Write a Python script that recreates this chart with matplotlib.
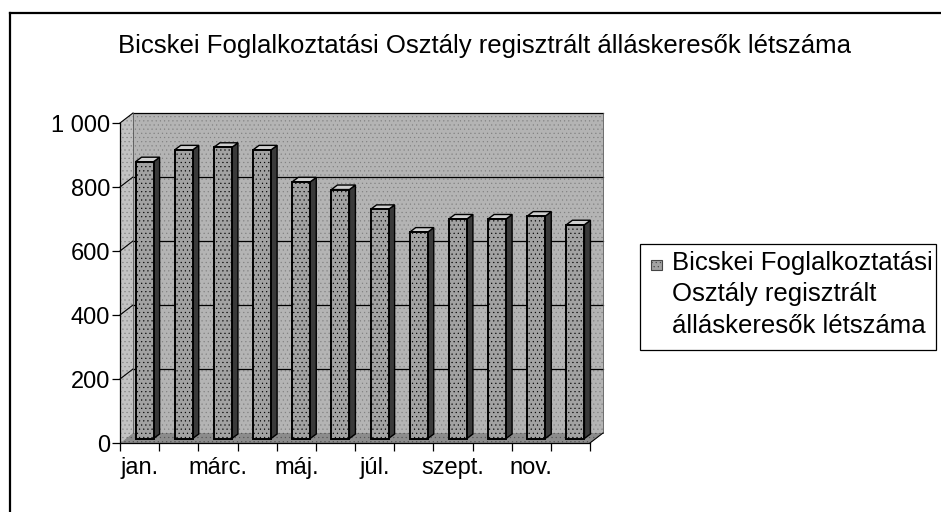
import matplotlib
matplotlib.use("Agg")
import matplotlib.pyplot as plt
from matplotlib.patches import Polygon, Rectangle
from matplotlib.lines import Line2D

# ---- data ----
months = ["jan.", "febr.", "márc.", "ápr.", "máj.", "jún.", "júl.", "aug.",
          "szept.", "okt.", "nov.", "dec."]
values = [865, 902, 910, 902, 802, 778, 716, 645, 686, 686, 695, 668]
shown_labels = ["jan.", "márc.", "máj.", "júl.", "szept.", "nov."]
yticks = [0, 200, 400, 600, 800, 1000]
ytick_labels = ["0", "200", "400", "600", "800", "1 000"]
title = "Bicskei Foglalkoztatási Osztály regisztrált álláskeresők létszáma"
legend_lines = ["Bicskei Foglalkoztatási", "Osztály regisztrált",
                "álláskeresők létszáma"]

plt.rcParams["font.family"] = ["Liberation Sans", "DejaVu Sans"]
plt.rcParams["hatch.linewidth"] = 0.35

W, H = 941, 512
fig = plt.figure(figsize=(W / 100, H / 100), dpi=100)
fig.patch.set_facecolor("white")

ax_l, ax_r, ax_top, ax_bot = 120, 590, 123, 443
ax = fig.add_axes([ax_l / W, (H - ax_bot) / H, (ax_r - ax_l) / W, (ax_bot - ax_top) / H])
n = len(values)
ax.set_xlim(-0.5, n - 0.5)
ax.set_ylim(0, 1000)
ax.set_facecolor("none")

px_x = (ax_r - ax_l) / n          # pixels per x unit
px_y = (ax_bot - ax_top) / 1000   # pixels per y unit
DX, DY = 13 / px_x, 10 / px_y     # full depth of the 3D box
FX, FY = 5 / px_x, 4.5 / px_y     # front face of the bars
SX, SY = 6 / px_x, 4.5 / px_y     # depth of each bar

x0, x1 = -0.5, n - 0.5
wall_c = "#b4b4b4"
hatch_c = "#808080"

# back wall
ax.add_patch(Polygon([(x0 + DX, DY), (x1 + DX, DY), (x1 + DX, 1000 + DY), (x0 + DX, 1000 + DY)],
                     closed=True, facecolor=wall_c, edgecolor=hatch_c, hatch="....",
                     lw=0, clip_on=False, zorder=0))
# left side wall
ax.add_patch(Polygon([(x0, 0), (x0 + DX, DY), (x0 + DX, 1000 + DY), (x0, 1000)],
                     closed=True, facecolor="#c2c2c2", edgecolor=hatch_c, hatch="....",
                     lw=0, clip_on=False, zorder=0))
# floor
ax.add_patch(Polygon([(x0, 0), (x1, 0), (x1 + DX, DY), (x0 + DX, DY)],
                     closed=True, facecolor="#8c8c8c", edgecolor="#555555", hatch="....",
                     lw=0, clip_on=False, zorder=0.5))
ax.plot([x1, x1 + DX], [0, DY], color="black", lw=0.8, clip_on=False, zorder=0.6)

# gridlines on back wall and side wall
for v in yticks[1:]:
    ax.plot([x0 + DX, x1 + DX], [v + DY, v + DY], color="black", lw=0.9,
            clip_on=False, zorder=0.4)
    ax.plot([x0, x0 + DX], [v, v + DY], color="black", lw=0.8, clip_on=False, zorder=0.4)
ax.plot([x0 + DX, x0 + DX], [DY, 1000 + DY], color="#555555", lw=0.6, clip_on=False, zorder=0.4)
ax.plot([x1 + DX, x1 + DX], [DY, 1000 + DY], color="#555555", lw=0.6, clip_on=False, zorder=0.4)

# bars
w = 0.46
xs = list(range(n))
ax.bar([x + FX for x in xs], values, width=w, bottom=FY, facecolor="#a2a2a2",
       edgecolor="black", linewidth=1.4, hatch="....", zorder=3, clip_on=False)
for x, v in zip(xs, values):
    xl, xr = x + FX - w / 2, x + FX + w / 2
    top = v + FY
    # side face
    ax.add_patch(Polygon([(xr, FY), (xr + SX, FY + SY), (xr + SX, top + SY), (xr, top)],
                         closed=True, facecolor="#3a3a3a", edgecolor="black", lw=1.0,
                         zorder=2.5, clip_on=False))
    # top face
    ax.add_patch(Polygon([(xl, top), (xr, top), (xr + SX, top + SY), (xl + SX, top + SY)],
                         closed=True, facecolor="#cfcfcf", edgecolor="black", lw=1.0,
                         zorder=2.6, clip_on=False))

# axes
for s in ["top", "right"]:
    ax.spines[s].set_visible(False)
ax.spines["left"].set_linewidth(0.9)
ax.spines["bottom"].set_linewidth(0.9)
ax.spines["left"].set_zorder(4)
ax.spines["bottom"].set_zorder(4)

ax.set_yticks(yticks)
ax.set_yticklabels(ytick_labels)
ax.tick_params(axis="y", direction="out", length=6, width=0.9, pad=1, labelsize=17)

ax.set_xticks([i - 0.5 for i in range(n + 1)])
ax.set_xticklabels([])
ax.tick_params(axis="x", which="major", direction="out", length=6, width=0.9)
ax.set_xticks([months.index(m) for m in shown_labels], minor=True)
ax.set_xticklabels(shown_labels, minor=True)
ax.tick_params(axis="x", which="minor", length=0, pad=10, labelsize=17)

# title
fig.text(485 / W, (H - 53) / H, title, ha="center", va="baseline", fontsize=18.5)

# legend (manual)
fig.patches.append(Rectangle((640 / W, (H - 350) / H), (936 - 640) / W, (350 - 244) / H,
                             transform=fig.transFigure, facecolor="white",
                             edgecolor="black", lw=0.9))
fig.patches.append(Rectangle((651 / W, (H - 270) / H), 11 / W, 10 / H,
                             transform=fig.transFigure, facecolor="#a2a2a2",
                             edgecolor="#444444", hatch="....", lw=0.8))
for k, line in enumerate(legend_lines):
    fig.text(672 / W, (H - (270 + 31.5 * k)) / H, line, ha="left", va="baseline",
             fontsize=18.5)

# outer frame lines
fig.add_artist(Line2D([10 / W, 10 / W], [0, (H - 13) / H], color="black", lw=1.6,
                      transform=fig.transFigure))
fig.add_artist(Line2D([10 / W, 1], [(H - 13) / H, (H - 13) / H], color="black", lw=1.6,
                      transform=fig.transFigure))

fig.savefig("out.png", dpi=100)
